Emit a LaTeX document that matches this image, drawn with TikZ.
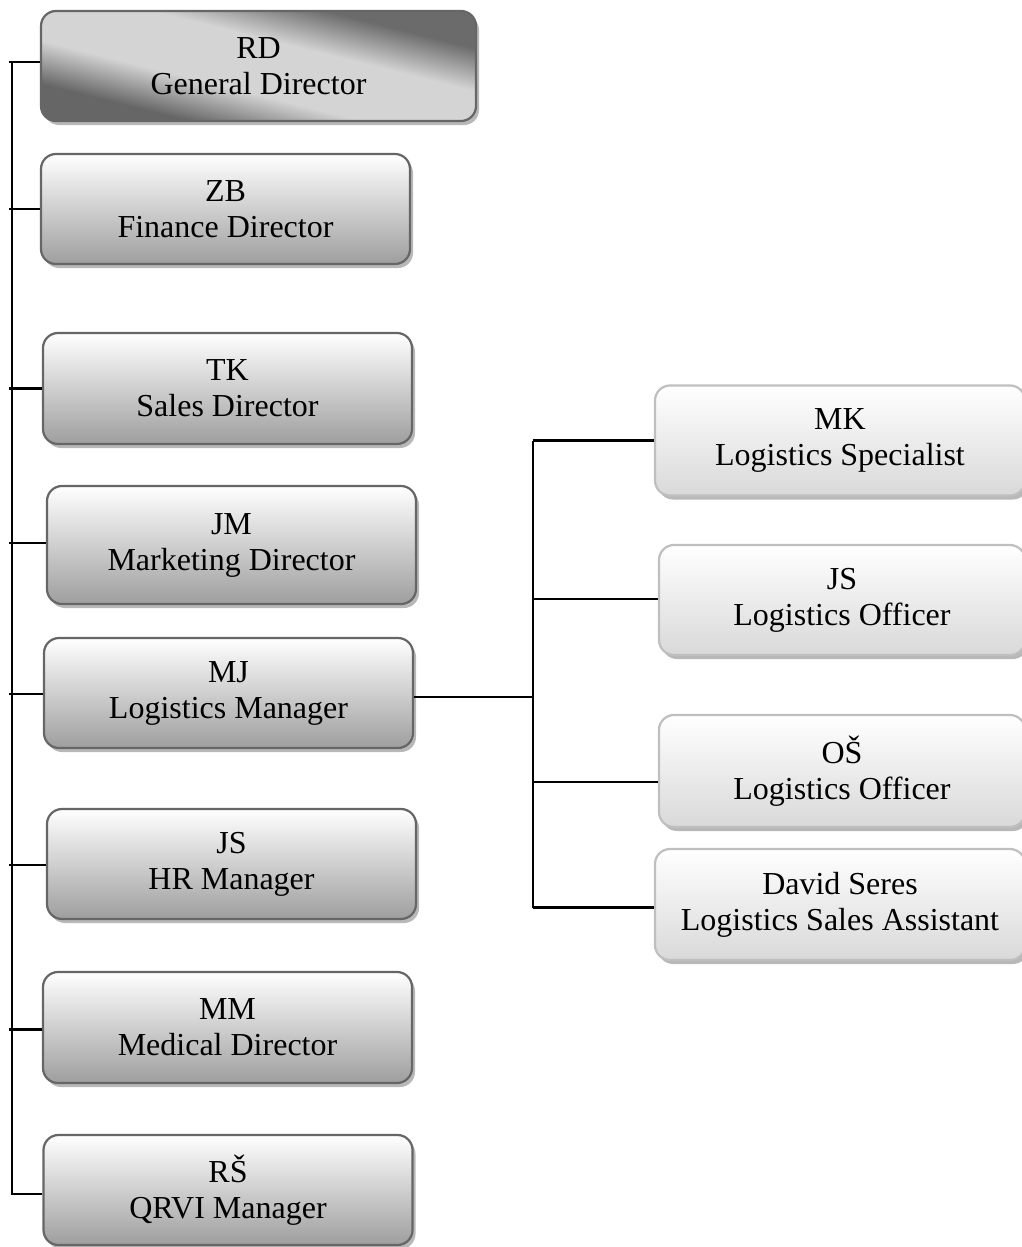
\documentclass[tikz,border=0pt]{standalone}
\usepackage{fontspec}
\setmainfont{Liberation Serif}
\usetikzlibrary{shadows, calc, positioning}

\pgfdeclareverticalshading{headshade}{100bp}{color(0bp)=(black!60); color(30bp)=(black!60);
  color(42bp)=(black!17); color(58bp)=(black!17); color(70bp)=(black!58); color(100bp)=(black!58)}

\tikzset{
  orgbox/.style={rounded corners=15pt, line width=2.2pt, align=center, inner sep=0pt,
    minimum width=369pt, minimum height=110pt, font=\fontsize{32}{36}\selectfont},
  dirbox/.style={orgbox, draw=black!60, top color=white, bottom color=black!38,
    drop shadow={shadow xshift=3pt, shadow yshift=-4pt, fill=black!35, opacity=0.8}},
  headbox/.style={orgbox, minimum width=435pt, draw=black!60,
    shading=headshade, shading angle=-14,
    drop shadow={shadow xshift=3pt, shadow yshift=-4pt, fill=black!35, opacity=0.8}},
  logbox/.style={orgbox, minimum width=370pt, draw=black!25, top color=white, bottom color=black!15,
    drop shadow={shadow xshift=3pt, shadow yshift=-4pt, fill=black!35, opacity=0.8}},
  link/.style={line width=2.4pt}
}

\begin{document}
\begin{tikzpicture}[>=latex, x=1pt, y=-1pt]
\useasboundingbox (0,0) rectangle (1022,1247);

\node[headbox] (dir1) at (258.5,66) {RD\\General Director};
\foreach \i/\x/\y/\h/\txt in {
    2/225.5/209/110/{ZB\\Finance Director},
    3/227.5/388.5/111/{TK\\Sales Director},
    4/231.5/545/118/{JM\\Marketing Director},
    5/228.5/693/110/{MJ\\Logistics Manager},
    6/231.5/864/110/{JS\\HR Manager},
    7/227.5/1027.5/111/{MM\\Medical Director},
    8/228/1190/110/{RŠ\\QRVI Manager}} {
    \node[dirbox, minimum height=\h pt] (dir\i) at (\x,\y) {\txt};
};

\node[logbox] (log1) at (840,440.5) {MK\\Logistics Specialist};
\node[logbox, minimum width=366pt] (log2) at (842,600) {JS\\Logistics Officer};
\node[logbox, minimum width=366pt, minimum height=112pt] (log3) at (842,771) {OŠ\\Logistics Officer};
\node[logbox, minimum height=111pt] (log4) at (840,904.5) {David Seres\\Logistics Sales Assistant};

\coordinate (spine) at (12,0);
\coordinate (stub) at (9,0);
\coordinate (branch) at (533,0);

\foreach \i/\dy in {1/4, 2/0, 3/0, 4/2, 5/-1, 6/-1, 7/-2} {
    \draw[link] ([yshift=\dy pt]dir\i.west) -- ([yshift=\dy pt]dir\i.west -| stub);
};
\draw[link] ([yshift=-4pt]dir8.west) -| ([yshift=4pt]dir1.west -| spine);

\draw[link] ([yshift=-4pt]dir5.east) -- ([yshift=-4pt]dir5.east -| branch);
\foreach \i/\dy in {1/0, 2/1, 3/-11, 4/-3} {
    \draw[link] ([yshift=\dy pt]log\i.west) -- ([yshift=\dy pt]log\i.west -| branch);
};
\draw[link] (log1.west -| branch) -- ([yshift=-3pt]log4.west -| branch);

\end{tikzpicture}
\end{document}
